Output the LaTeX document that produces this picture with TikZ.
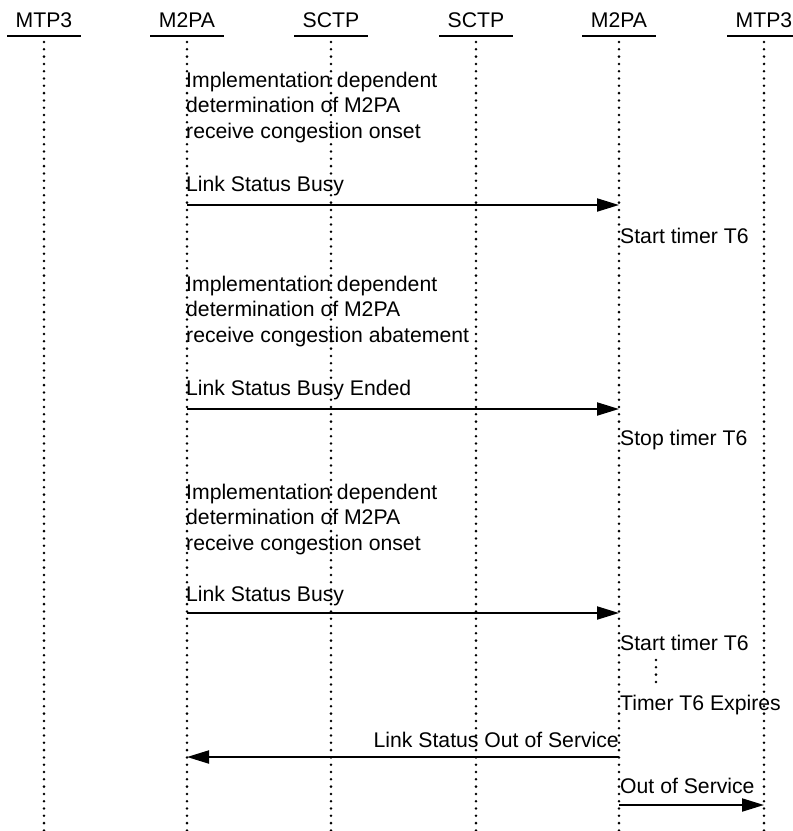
\documentclass[tikz,border=0pt]{standalone}
\usepackage{fontspec}
\setmainfont{Liberation Sans}
\usetikzlibrary{arrows.meta}
\tikzstyle{Head}=[font=\fontsize{21.2}{25.5}\selectfont,inner sep=0pt,
anchor=base]
\tikzstyle{Bar}=[line width=2pt]
\tikzstyle{Life}=[line width=2.8pt,line cap=round,
dash pattern=on 0pt off 7.3pt]
\tikzstyle{Msg}=[line width=2pt,-{Triangle[length=22pt,width=13pt]}]
\tikzstyle{Note}=[font=\fontsize{21.2}{25.5}\selectfont,inner sep=0pt,
anchor=base west,align=left]

\begin{document}
\begin{tikzpicture}[x=1pt,y=-1pt]
            \useasboundingbox(0,0)rectangle(793,831);
            % heads
            \node[Head](h1)at(44,27){MTP3};
            \node[Head](h2)at(187,27){M2PA};
            \node[Head](h3)at(331,27){SCTP};
            \node[Head](h4)at(476,27){SCTP};
            \node[Head](h5)at(619,27){M2PA};
            \node[Head](h6)at(764,27){MTP3};
            \draw[Bar](7,36)--(81,36);
            \draw[Bar](150,36)--(224,36);
            \draw[Bar](294,36)--(368,36);
            \draw[Bar](439,36)--(513,36);
            \draw[Bar](582,36)--(656,36);
            \draw[Bar](727,36)--(801,36);
            % life lines
            \coordinate(t1)at(44,42);  \coordinate(b1)at(44,831);
            \coordinate(t2)at(187,42); \coordinate(b2)at(187,831);
            \coordinate(t3)at(331,42); \coordinate(b3)at(331,831);
            \coordinate(t4)at(476,42); \coordinate(b4)at(476,831);
            \coordinate(t5)at(619,42); \coordinate(b5)at(619,831);
            \coordinate(t6)at(764,42); \coordinate(b6)at(764,831);
            \draw[Life](t1)--(b1);
            \draw[Life](t2)--(b2);
            \draw[Life](t3)--(b3);
            \draw[Life](t4)--(b4);
            \draw[Life](t5)--(b5);
            \draw[Life](t6)--(b6);
            % (base of a note is its last line)
            \node[Note](n1)at(186,138){Implementation dependent\\
                determination of M2PA\\receive congestion onset};
            \node[Note](m1)at(186,191){Link Status Busy};
            \coordinate(s1)at(187,205); \coordinate(e1)at(619,205);
            \draw[Msg](s1)--(e1);
            \node[Note](k1)at(620,243){Start timer T6};
            %
            \node[Note](n2)at(186,342){Implementation dependent\\
                determination of M2PA\\receive congestion abatement};
            \node[Note](m2)at(186,395){Link Status Busy Ended};
            \coordinate(s2)at(187,409); \coordinate(e2)at(619,409);
            \draw[Msg](s2)--(e2);
            \node[Note](k2)at(620,445){Stop timer T6};
            %
            \node[Note](n3)at(186,550){Implementation dependent\\
                determination of M2PA\\receive congestion onset};
            \node[Note](m3)at(186,601){Link Status Busy};
            \coordinate(s3)at(187,613); \coordinate(e3)at(619,613);
            \draw[Msg](s3)--(e3);
            \node[Note](k3)at(620,650){Start timer T6};
            \coordinate(w1)at(656,660); \coordinate(w2)at(656,687);
            \draw[Life](w1)--(w2);
            \node[Note](k4)at(620,710){Timer T6 Expires};
            %
            \node[Note,anchor=base east](m4)at(619,747)
                {Link Status Out of Service};
            \coordinate(s4)at(619,757); \coordinate(e4)at(187,757);
            \draw[Msg](s4)--(e4);
            \node[Note](m5)at(620,793){Out of Service};
            \coordinate(s5)at(619,805); \coordinate(e5)at(764,805);
            \draw[Msg](s5)--(e5);
        \end{tikzpicture}
\end{document}
